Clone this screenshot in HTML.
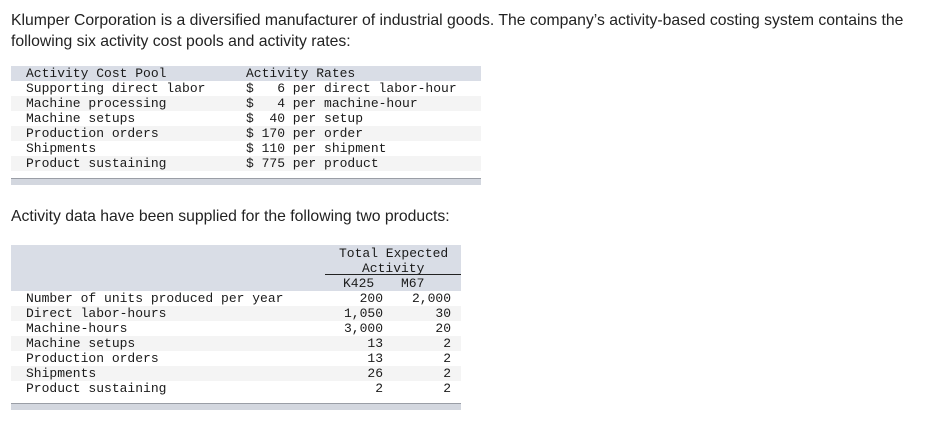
<!DOCTYPE html>
<html><head><meta charset="utf-8"><style>
body{margin:0;width:936px;height:435px;background:#fff;position:relative;overflow:hidden;font-family:"Liberation Sans",sans-serif;color:#222}
.p{position:absolute;left:11px;font-size:15.75px;line-height:21px;margin:0}
.m{font-family:"Liberation Mono",monospace;font-size:13px;white-space:pre;color:#1a1a1a}
.row{position:absolute;height:15px;line-height:15px}
.a{position:absolute}
.bar{position:absolute;height:6px;background:#d3d7df;border-top:1px solid #9a9ea6}
</style></head><body>
<p class="p" style="top:10px;width:915px">Klumper Corporation is a diversified manufacturer of industrial goods. The company’s activity-based costing system contains the following six activity cost pools and activity rates:</p>

<div>
<div class="row m" style="left:11px;top:66px;width:470px;background:#d9dde6"><span class="a" style="left:15px">Activity Cost Pool</span><span class="a" style="left:235px">Activity Rates</span></div>
<div class="row m" style="left:11px;top:81px;width:470px"><span class="a" style="left:15px">Supporting direct labor</span><span class="a" style="left:235px">$   6 per direct labor-hour</span></div>
<div class="row m" style="left:11px;top:96px;width:470px;background:#f4f4f4"><span class="a" style="left:15px">Machine processing</span><span class="a" style="left:235px">$   4 per machine-hour</span></div>
<div class="row m" style="left:11px;top:111px;width:470px"><span class="a" style="left:15px">Machine setups</span><span class="a" style="left:235px">$  40 per setup</span></div>
<div class="row m" style="left:11px;top:126px;width:470px;background:#f4f4f4"><span class="a" style="left:15px">Production orders</span><span class="a" style="left:235px">$ 170 per order</span></div>
<div class="row m" style="left:11px;top:141px;width:470px"><span class="a" style="left:15px">Shipments</span><span class="a" style="left:235px">$ 110 per shipment</span></div>
<div class="row m" style="left:11px;top:156px;width:470px;background:#f4f4f4"><span class="a" style="left:15px">Product sustaining</span><span class="a" style="left:235px">$ 775 per product</span></div>
<div class="bar" style="left:11px;top:178px;width:470px"></div>
</div>

<p class="p" style="top:206px">Activity data have been supplied for the following two products:</p>

<div>
<div class="a" style="left:11px;top:245px;width:450px;height:46px;background:#d9dde6">
<span class="a m" style="left:328px;top:1px;line-height:15px">Total Expected</span>
<span class="a m" style="left:351px;top:16px;line-height:15px">Activity</span>
<div class="a" style="left:314px;top:29px;width:136px;height:1px;background:#222"></div>
<span class="a m" style="left:332px;top:31px;line-height:15px">K425</span>
<span class="a m" style="left:390px;top:31px;line-height:15px">M67</span>
</div>
<div class="row m" style="left:11px;top:291px;width:450px"><span class="a" style="left:15px">Number of units produced per year</span><span class="a" style="right:78px">200</span><span class="a" style="right:10px">2,000</span></div>
<div class="row m" style="left:11px;top:306px;width:450px;background:#f4f4f4"><span class="a" style="left:15px">Direct labor-hours</span><span class="a" style="right:78px">1,050</span><span class="a" style="right:10px">30</span></div>
<div class="row m" style="left:11px;top:321px;width:450px"><span class="a" style="left:15px">Machine-hours</span><span class="a" style="right:78px">3,000</span><span class="a" style="right:10px">20</span></div>
<div class="row m" style="left:11px;top:336px;width:450px;background:#f4f4f4"><span class="a" style="left:15px">Machine setups</span><span class="a" style="right:78px">13</span><span class="a" style="right:10px">2</span></div>
<div class="row m" style="left:11px;top:351px;width:450px"><span class="a" style="left:15px">Production orders</span><span class="a" style="right:78px">13</span><span class="a" style="right:10px">2</span></div>
<div class="row m" style="left:11px;top:366px;width:450px;background:#f4f4f4"><span class="a" style="left:15px">Shipments</span><span class="a" style="right:78px">26</span><span class="a" style="right:10px">2</span></div>
<div class="row m" style="left:11px;top:381px;width:450px"><span class="a" style="left:15px">Product sustaining</span><span class="a" style="right:78px">2</span><span class="a" style="right:10px">2</span></div>
<div class="bar" style="left:11px;top:403px;width:450px"></div>
</div>
</body></html>
